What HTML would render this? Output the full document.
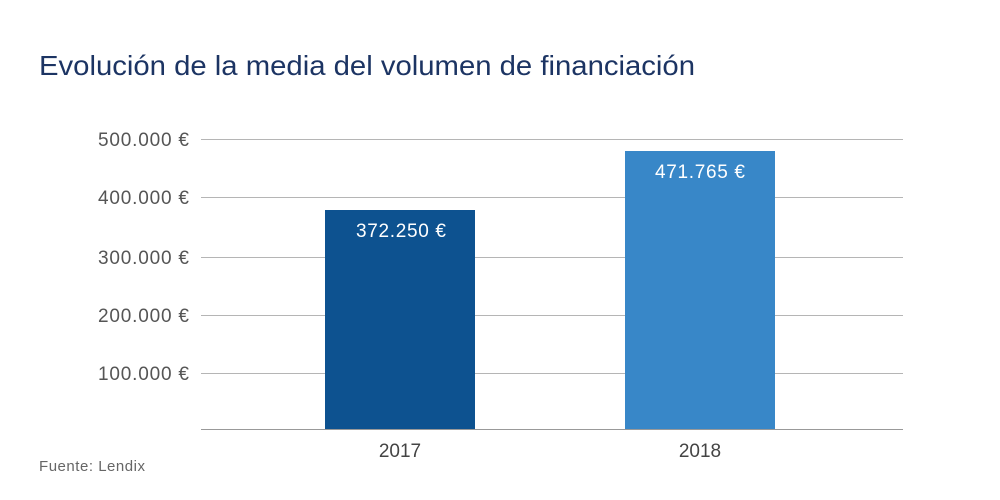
<!DOCTYPE html>
<html><head><meta charset="utf-8"><style>
body{margin:0;background:#fff;}
svg{display:block;font-family:"Liberation Sans",sans-serif;}
</style></head><body>
<svg width="1000" height="500" viewBox="0 0 1000 500">
<rect width="1000" height="500" fill="#fff"/>
<text x="39" y="75" font-size="28" fill="#1c3463" textLength="656" lengthAdjust="spacingAndGlyphs">Evolución de la media del volumen de financiación</text>
<g stroke="#b5b5b5" stroke-width="1">
<line x1="201" x2="903" y1="139.5" y2="139.5"/>
<line x1="201" x2="903" y1="197.5" y2="197.5"/>
<line x1="201" x2="903" y1="257.5" y2="257.5"/>
<line x1="201" x2="903" y1="315.5" y2="315.5"/>
<line x1="201" x2="903" y1="373.5" y2="373.5"/>
</g>
<line x1="201" x2="903" y1="429.5" y2="429.5" stroke="#999" stroke-width="1"/>
<g font-size="19" fill="#555">
<text x="98" y="146" textLength="91">500.000 €</text>
<text x="98" y="204" textLength="91">400.000 €</text>
<text x="98" y="264" textLength="91">300.000 €</text>
<text x="98" y="322" textLength="91">200.000 €</text>
<text x="98" y="380" textLength="91">100.000 €</text>
</g>
<rect x="325" y="210" width="150" height="219" fill="#0d5290"/>
<rect x="625" y="151" width="150" height="278" fill="#3887c8"/>
<g font-size="19" fill="#fff">
<text x="356" y="237" textLength="90">372.250 €</text>
<text x="655" y="178" textLength="90">471.765 €</text>
</g>
<g font-size="19" fill="#444" text-anchor="middle">
<text x="400" y="457">2017</text>
<text x="700" y="457">2018</text>
</g>
<text x="39" y="471" font-size="15" fill="#666" textLength="106">Fuente: Lendix</text>
</svg>
</body></html>
